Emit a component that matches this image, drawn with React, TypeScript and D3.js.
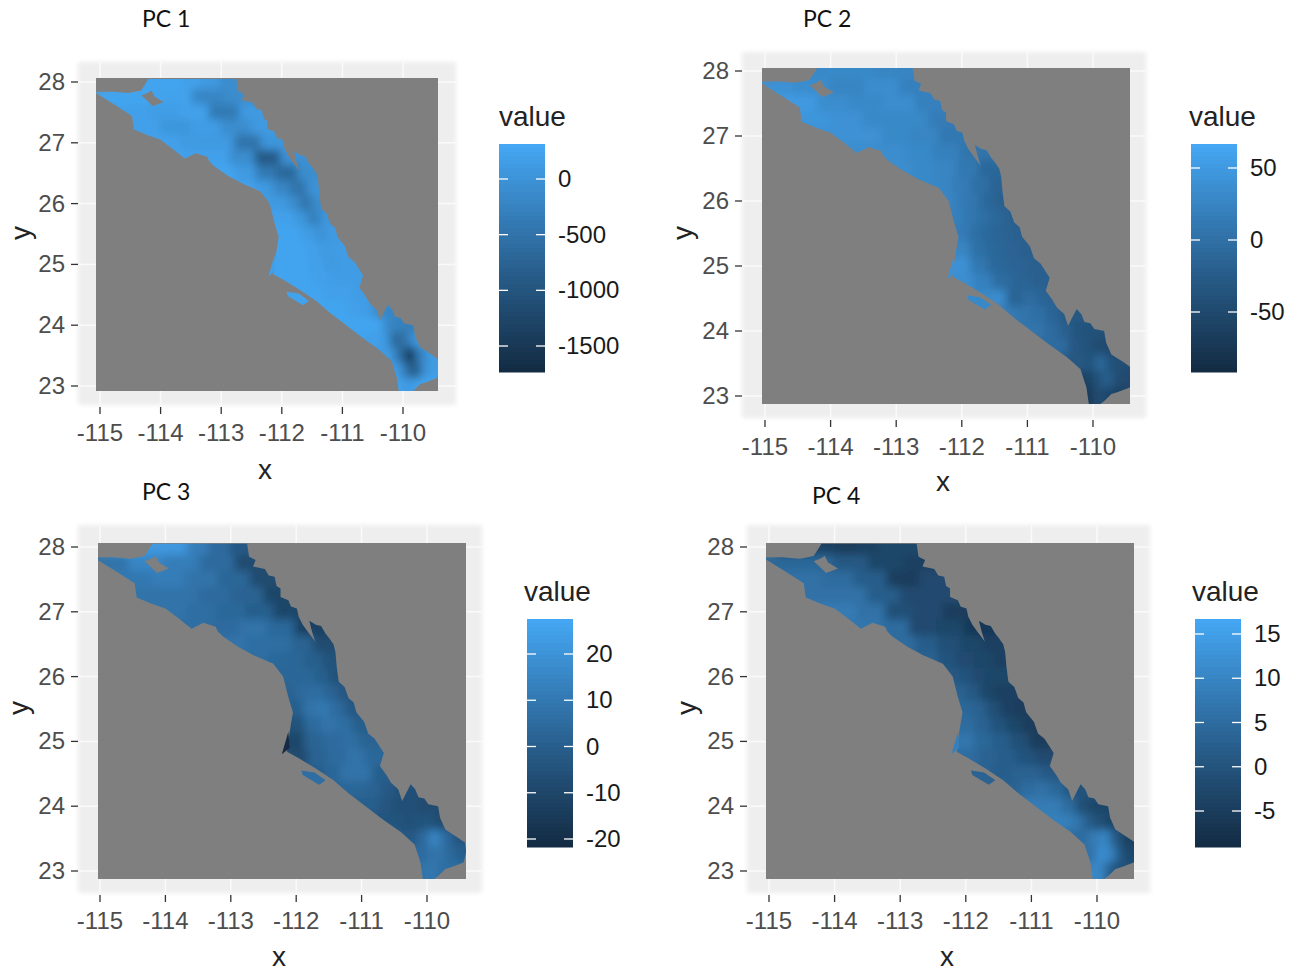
import React from 'react';
import * as d3 from 'd3';

// Tick labels
const lonTicks = [-115, -114, -113, -112, -111, -110];
const latTicks = [28, 27, 26, 25, 24, 23];

// Raster rows: latitude, then the west and east limit of the row
const rowLats = [28, 27.75, 27.5, 27.25, 27, 26.75, 26.5, 26.25, 26, 25.75, 25.5, 25.25, 25, 24.75, 24.5, 24.25, 24, 23.75, 23.5, 23.25, 23];
const rowWest = [-114.3, -115.1, -114.7, -114.5, -114.1, -113.7, -113.1, -112.7, -112.3, -112.2, -112.1, -112.1, -112.15, -112.1, -111.8, -111.4, -110.95, -110.55, -110.3, -110.15, -110.1];
const rowEast = [-112.7, -112.4, -112.2, -112, -111.9, -111.6, -111.4, -111.3, -111.3, -111.15, -111.05, -110.9, -110.75, -110.65, -110.6, -110.25, -109.9, -109.7, -109.45, -109.4, -109.6];

// Land outline, [lon, lat]
const coast: [number, number][] = [
  [-114.2, 28.05], [-112.75, 28.05], [-112.72, 27.85], [-112.62, 27.8], [-112.66, 27.7], [-112.48, 27.66], [-112.42, 27.56], [-112.33, 27.54],
  [-112.3, 27.4], [-112.24, 27.36], [-112.24, 27.23], [-112.12, 27.18], [-112.08, 27.08], [-111.99, 27.05], [-111.96, 26.92], [-111.9, 26.8],
  [-111.8, 26.66], [-111.71, 26.54], [-111.76, 26.7], [-111.8, 26.86], [-111.7, 26.8], [-111.62, 26.78], [-111.55, 26.66], [-111.5, 26.6],
  [-111.43, 26.5], [-111.4, 26.38], [-111.38, 26.15], [-111.35, 25.92], [-111.26, 25.84], [-111.2, 25.67], [-111.12, 25.6], [-111.08, 25.45],
  [-110.96, 25.3], [-110.9, 25.12], [-110.8, 25.04], [-110.66, 24.82], [-110.72, 24.62], [-110.62, 24.48], [-110.55, 24.36], [-110.44, 24.26],
  [-110.38, 24.08], [-110.32, 24.2], [-110.25, 24.34], [-110.18, 24.26], [-110.13, 24.14], [-110.04, 24.12], [-109.98, 24.03], [-109.83, 24],
  [-109.8, 23.82], [-109.72, 23.64], [-109.55, 23.53], [-109.42, 23.44], [-109.4, 23.3], [-109.44, 23.13], [-109.62, 23.06], [-109.72, 23.03],
  [-109.82, 22.93], [-109.92, 22.85], [-110.06, 22.85], [-110.1, 23.13], [-110.19, 23.41], [-110.4, 23.6], [-110.68, 23.8], [-110.9, 23.97],
  [-111.2, 24.2], [-111.43, 24.4], [-111.7, 24.58], [-111.96, 24.74], [-112.14, 24.84], [-112.1, 25.15], [-112.05, 25.45], [-112.12, 25.68],
  [-112.2, 26], [-112.35, 26.2], [-112.65, 26.33], [-112.89, 26.46], [-113.12, 26.62], [-113.2, 26.7], [-113.23, 26.77], [-113.42, 26.83],
  [-113.6, 26.74], [-113.8, 26.9], [-114, 27.05], [-114.2, 27.12], [-114.44, 27.22], [-114.47, 27.44], [-114.75, 27.62], [-115.1, 27.84],
  [-114.8, 27.84], [-114.53, 27.82], [-114.32, 27.86], [-114.27, 27.94],
];
const bayNotch: [number, number][] = [[-114.32, 27.78], [-114.25, 27.72], [-114.13, 27.6], [-113.95, 27.67], [-114.1, 27.76], [-114.15, 27.86], [-114.22, 27.82]];
const magdalena: [number, number][] = [[-112.22, 24.8], [-112.12, 25.15], [-112.1, 24.9]];
const margarita: [number, number][] = [[-111.92, 24.55], [-111.72, 24.52], [-111.55, 24.4], [-111.65, 24.33], [-111.9, 24.48]];

// Values per row, five columns from west to east
const pc1Values = [
  [250, 250, 200, 100, -100], [250, 250, 220, -200, -100], [200, 150, 200, -400, 100], [200, 50, 150, -100, 100],
  [200, 100, 100, -500, 50], [200, 200, -100, -900, -50], [250, 100, -400, -700, -100], [200, 100, -200, -500, 0],
  [100, 100, -100, -500, -100], [200, 200, 50, -300, 50], [250, 250, 150, 0, 100], [250, 250, 200, 100, 150],
  [250, 250, 200, 100, 150], [250, 250, 200, 150, 150], [250, 250, 200, 200, 150], [250, 250, 200, 150, -200],
  [250, 250, 250, -200, -300], [200, 100, -700, -500, 50], [100, -600, -1500, -300, 100], [100, -600, -900, 0, 150],
  [200, 100, 100, 200, 250],
];
const pc2Values = [
  [30, 30, 30, 25, 25], [40, 35, 25, 35, 20], [50, 35, 30, 35, 20], [45, 40, 30, 30, 15], [40, 40, 30, 25, 10],
  [35, 35, 30, 20, 5], [35, 30, 25, 10, -10], [30, 25, 15, 0, -15], [25, 15, 5, -10, -20], [20, 10, 0, -10, -20],
  [15, 0, -10, -15, -20], [25, 0, -10, -15, -20], [40, 10, -10, -15, -20], [35, 20, -5, -15, -20], [30, 35, -15, -5, -15],
  [15, 5, 0, -15, -30], [5, -5, -20, -35, -40], [-5, -30, -35, -45, -50], [-30, -35, -10, -40, -45], [-60, -40, -20, -45, -50],
  [-70, -50, -45, -55, -60],
];
const pc3Values = [
  [22, 22, 12, 5, -2], [8, 15, 12, 5, -8], [10, 12, 8, 3, -8], [8, 8, 5, 2, -10], [8, 6, 4, 0, -10],
  [6, 5, 8, 4, -12], [8, 6, 6, 2, -8], [6, 4, 3, 0, -5], [3, 3, 3, 0, -5], [2, 5, 6, 2, -3],
  [0, 8, 10, 5, -2], [-5, 5, 8, 6, 0], [-10, 2, 5, 6, 2], [-8, 2, 5, 8, 4], [0, 3, 8, 8, 0],
  [3, 3, 2, -2, -6], [0, -3, -6, -6, -8], [-4, -6, -5, -4, -8], [-2, 5, 15, 5, -3], [5, 8, 8, 4, 0],
  [8, 10, 8, 6, 6],
];
const pc4Values = [
  [-4, -5, -4, -3, -3], [4, 4, 1, -3, -4], [6, 5, 2, -5, -2], [6, 6, 2, -2, -2], [8, 6, -1, -2, -5],
  [7, 5, -2, -3, -6], [5, 2, -1, -3, -4], [3, 0, -2, -3, -4], [1, 0, -2, -3, -3], [3, 1, -3, -4, -4],
  [4, 3, -1, -4, -5], [5, 3, 0, -3, -5], [7, 4, 2, -1, -5], [5, 3, 2, 0, -2], [3, 2, 3, 3, 1],
  [3, 5, 6, 4, 0], [8, 8, 5, -1, -3], [9, 7, 2, -1, -3], [5, 8, 10, 1, -4], [6, 12, 9, 0, -3],
  [10, 11, 5, 0, 0],
];

// Magdalena and Margarita island values
const pc1Islands = [200, 220];
const pc2Islands = [40, 30];
const pc3Islands = [-21, 6];
const pc4Islands = [9, 3];

// Legends
const pc1Legend = [0, -500, -1000, -1500];
const pc2Legend = [50, 0, -50];
const pc3Legend = [20, 10, 0, -10, -20];
const pc4Legend = [15, 10, 5, 0, -5];

const LOW = '#132B43';
const HIGH = '#45A8F5';
const SANS = '"Liberation Sans", Arial, sans-serif';
const TICK_COLOR = '#4d4d4d';
const TICK_SIZE = 24;

const PANELS = [
  {
    id: 'pc1', title: 'PC 1', titleX: 142, titleY: 27, values: pc1Values, islands: pc1Islands, legend: pc1Legend,
    domain: [-1730, 313], ticksAt: [179, 346],
    rect: [96, 78, 438, 391], halo: [78, 62, 456, 405], lonPx: [100, 403], latPx: [82, 386],
    labelY: 441, xTitle: [265, 479], yTitleX: 30, yTitleY: 233,
    legendTitleX: 499, legendTitleY: 126, barX: 499, barY: [144, 372],
  },
  {
    id: 'pc2', title: 'PC 2', titleX: 803, titleY: 27, values: pc2Values, islands: pc2Islands, legend: pc2Legend,
    domain: [-91.7, 66.7], ticksAt: [168, 312],
    rect: [762, 68, 1130, 404], halo: [742, 52, 1146, 418], lonPx: [765, 1093], latPx: [71, 396],
    labelY: 455, xTitle: [943, 491], yTitleX: 692, yTitleY: 233,
    legendTitleX: 1189, legendTitleY: 126, barX: 1191, barY: [144, 372],
  },
  {
    id: 'pc3', title: 'PC 3', titleX: 142, titleY: 500, values: pc3Values, islands: pc3Islands, legend: pc3Legend,
    domain: [-21.6, 27.7], ticksAt: [654, 839],
    rect: [98, 543, 466, 879], halo: [78, 525, 482, 893], lonPx: [100, 427], latPx: [547, 871],
    labelY: 929, xTitle: [279, 966], yTitleX: 28, yTitleY: 708,
    legendTitleX: 524, legendTitleY: 601, barX: 527, barY: [619, 847],
  },
  {
    id: 'pc4', title: 'PC 4', titleX: 812, titleY: 504, values: pc4Values, islands: pc4Islands, legend: pc4Legend,
    domain: [-9, 16.7], ticksAt: [634, 811],
    rect: [766, 543, 1134, 879], halo: [747, 525, 1150, 893], lonPx: [769, 1097], latPx: [547, 871],
    labelY: 929, xTitle: [947, 966], yTitleX: 696, yTitleY: 708,
    legendTitleX: 1192, legendTitleY: 601, barX: 1195, barY: [619, 847],
  },
];

function Panel({ p }: { p: (typeof PANELS)[number] }) {
  const x = d3.scaleLinear().domain([-115, -110]).range(p.lonPx);
  const y = d3.scaleLinear().domain([28, 23]).range(p.latPx);
  const color = d3.scaleLinear<string>().domain(p.domain).range([LOW, HIGH]).interpolate(d3.interpolateLab);
  const legendY = d3.scaleLinear()
    .domain([p.legend[0], p.legend[p.legend.length - 1]])
    .range(p.ticksAt);
  const line = d3.line<[number, number]>().x(d => x(d[0])).y(d => y(d[1]));

  const [x0, y0, x1, y1] = p.rect;
  const [hx0, hy0, hx1, hy1] = p.halo;
  const rowH = 0.25;
  const bleed = 0.6; // outer columns run past the coast so the blur never fades at the clip
  const barW = 46;
  const steps = d3.range(0, 57);

  return (
    <g>
      <defs>
        <clipPath id={`${p.id}-panel`}><rect x={x0} y={y0} width={x1 - x0} height={y1 - y0} /></clipPath>
        <clipPath id={`${p.id}-land`}><path clipRule="evenodd" d={line(coast) + 'Z' + line(bayNotch) + 'Z'} /></clipPath>
      </defs>

      <text x={p.titleX} y={p.titleY} fontFamily="Lato, sans-serif" fontSize={23} fill="#111">{p.title}</text>

      {/* theme_gray background and its grid, only visible outside the raster */}
      <rect x={hx0} y={hy0} width={hx1 - hx0} height={hy1 - hy0} fill="#eeeeee" filter="url(#soft)" />
      {lonTicks.map(t => <line key={t} x1={x(t)} x2={x(t)} y1={hy0} y2={hy1} stroke="#fafafa" strokeWidth={1.5} />)}
      {latTicks.map(t => <line key={t} x1={hx0} x2={hx1} y1={y(t)} y2={y(t)} stroke="#fafafa" strokeWidth={1.5} />)}

      <rect x={x0} y={y0} width={x1 - x0} height={y1 - y0} fill="#7f7f7f" />

      <g clipPath={`url(#${p.id}-panel)`}>
        <g filter="url(#edge)">
          <g clipPath={`url(#${p.id}-land)`}>
            <g filter="url(#smooth)">
              {rowLats.map((lat, i) => {
                const n = p.values[i].length;
                const colW = (rowEast[i] - rowWest[i]) / n;
                return p.values[i].map((v, j) => {
                  const lon0 = rowWest[i] + j * colW - (j === 0 ? bleed : 0);
                  const lon1 = rowWest[i] + (j + 1) * colW + (j === n - 1 ? bleed : 0);
                  return (
                    <rect
                      key={`${i}-${j}`}
                      x={x(lon0) - 0.5}
                      y={y(lat + rowH / 2 + (i === 0 ? bleed : 0)) - 0.5}
                      width={x(lon1) - x(lon0) + 1}
                      height={y(lat - rowH / 2 - (i === rowLats.length - 1 ? bleed : 0)) - y(lat + rowH / 2 + (i === 0 ? bleed : 0)) + 1}
                      fill={color(v)}
                    />
                  );
                });
              })}
            </g>
          </g>
          <path d={line(magdalena) + 'Z'} fill={color(p.islands[0])} />
          <path d={line(margarita) + 'Z'} fill={color(p.islands[1])} />
        </g>
      </g>

      {/* axes */}
      {lonTicks.map(t => (
        <g key={t}>
          <line x1={x(t)} x2={x(t)} y1={hy1 + 2} y2={hy1 + 9} stroke="#333" strokeWidth={1.3} />
          <text x={x(t)} y={p.labelY} textAnchor="middle" fontFamily={SANS} fontSize={TICK_SIZE} fill={TICK_COLOR}>{t}</text>
        </g>
      ))}
      {latTicks.map(t => (
        <g key={t}>
          <line x1={hx0 - 7} x2={hx0} y1={y(t)} y2={y(t)} stroke="#333" strokeWidth={1.3} />
          <text x={hx0 - 13} y={y(t) + 8} textAnchor="end" fontFamily={SANS} fontSize={TICK_SIZE} fill={TICK_COLOR}>{t}</text>
        </g>
      ))}
      <text x={p.xTitle[0]} y={p.xTitle[1]} textAnchor="middle" fontFamily={SANS} fontSize={28} fill="#222">x</text>
      <text transform={`translate(${p.yTitleX},${p.yTitleY}) rotate(-90)`} textAnchor="middle" fontFamily={SANS} fontSize={28} fill="#222">y</text>

      {/* legend */}
      <text x={p.legendTitleX} y={p.legendTitleY} fontFamily={SANS} fontSize={28} fill="#222">value</text>
      {steps.map(s => {
        const h = (p.barY[1] - p.barY[0]) / steps.length;
        const v = p.domain[1] - (s + 0.5) / steps.length * (p.domain[1] - p.domain[0]);
        return <rect key={s} x={p.barX} y={p.barY[0] + s * h} width={barW} height={h + 0.5} fill={color(v)} />;
      })}
      {p.legend.map(t => (
        <g key={t}>
          <line x1={p.barX} x2={p.barX + 9} y1={legendY(t)} y2={legendY(t)} stroke="#fff" strokeWidth={1.3} />
          <line x1={p.barX + barW - 9} x2={p.barX + barW} y1={legendY(t)} y2={legendY(t)} stroke="#fff" strokeWidth={1.3} />
          <text x={p.barX + barW + 13} y={legendY(t) + 8} fontFamily={SANS} fontSize={TICK_SIZE} fill="#1a1a1a">{t}</text>
        </g>
      ))}
    </g>
  );
}

export default function App() {
  return (
    <svg width={1295} height={972} style={{ position: 'absolute', left: 0, top: 0, background: '#fff' }}>
      <defs>
        <filter id="smooth" x="-10%" y="-10%" width="120%" height="120%"><feGaussianBlur stdDeviation={4} /></filter>
        <filter id="edge" x="-5%" y="-5%" width="110%" height="110%"><feGaussianBlur stdDeviation={0.6} /></filter>
        <filter id="soft" x="-5%" y="-5%" width="110%" height="110%"><feGaussianBlur stdDeviation={2} /></filter>
      </defs>
      {PANELS.map(p => <Panel key={p.id} p={p} />)}
    </svg>
  );
}
